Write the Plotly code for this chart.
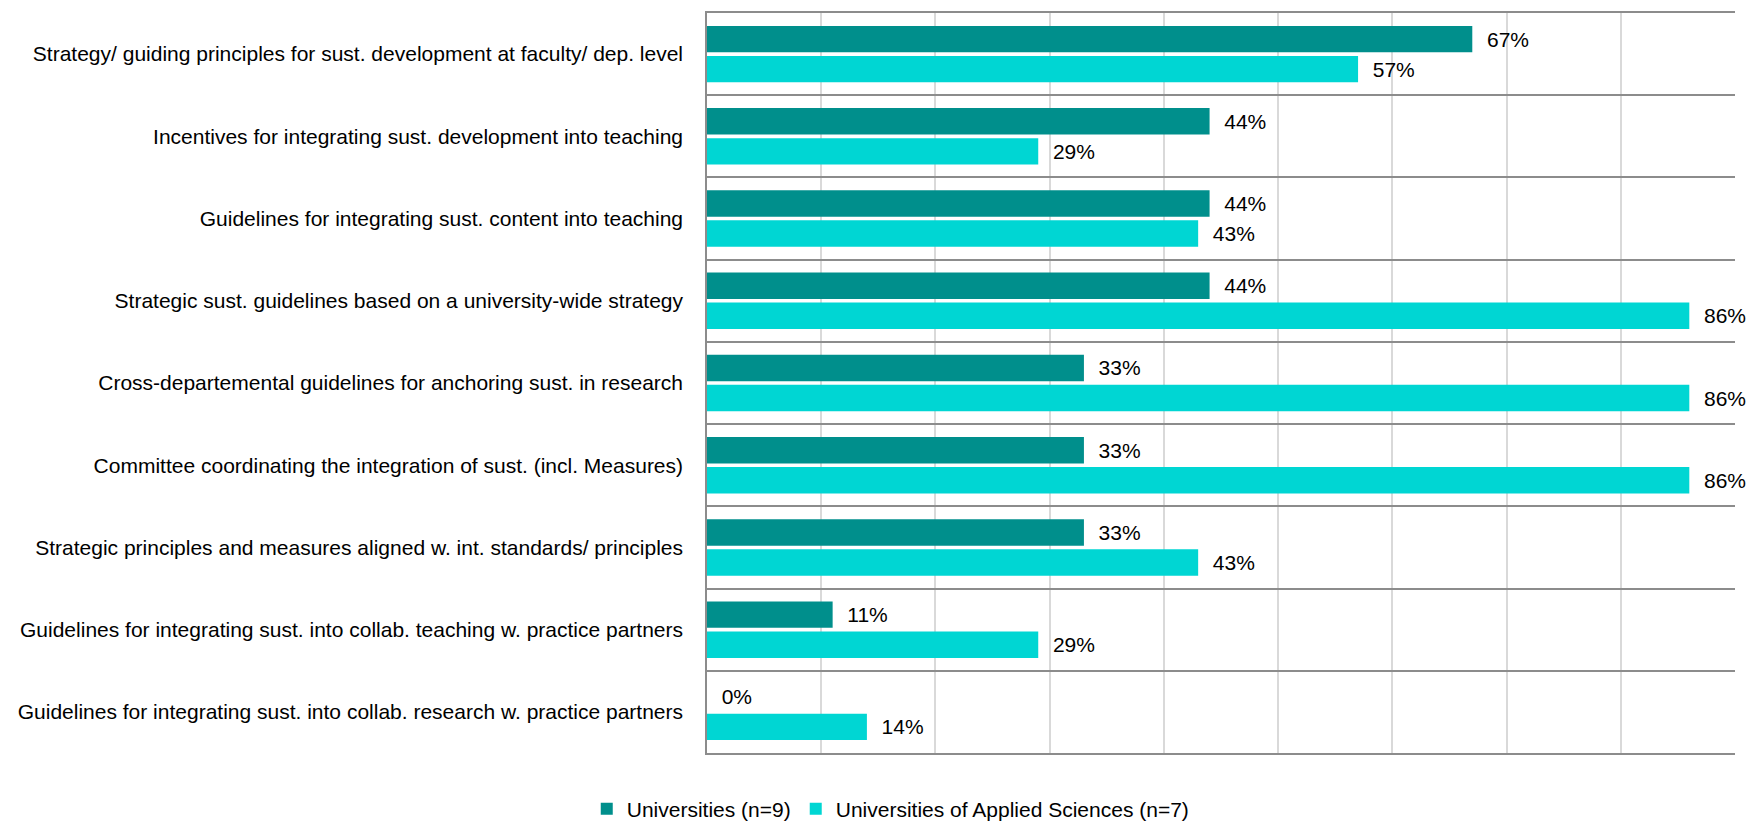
import plotly.graph_objects as go

categories = [
    "Strategy/ guiding principles for sust. development at faculty/ dep. level",
    "Incentives for integrating sust. development into teaching",
    "Guidelines for integrating sust. content into teaching",
    "Strategic sust. guidelines based on a university-wide strategy",
    "Cross-departemental guidelines for anchoring sust. in research",
    "Committee coordinating the integration of sust. (incl. Measures)",
    "Strategic principles and measures aligned w. int. standards/ principles",
    "Guidelines for integrating sust. into collab. teaching w. practice partners",
    "Guidelines for integrating sust. into collab. research w. practice partners",
]
universities = [0.67, 0.44, 0.44, 0.44, 0.33, 0.33, 0.33, 0.11, 0.00]
applied_sciences = [0.57, 0.29, 0.43, 0.86, 0.86, 0.86, 0.43, 0.29, 0.14]
series_names = ["Universities (n=9)", "Universities of Applied Sciences (n=7)"]
colors = ["#008F8C", "#00D6D3"]

font_family = "Liberation Sans, Arial, sans-serif"
fsize = 21

fig = go.Figure()
for name, vals, col in zip(series_names, [universities, applied_sciences], colors):
    fig.add_trace(go.Bar(
        y=categories,
        x=vals,
        name=name,
        orientation="h",
        marker=dict(color=col, line=dict(width=0)),
        # non-breaking spaces push the label away from the bar end
        text=[f"\u00a0\u00a0{v:.0%}" for v in vals],
        textposition="outside",
        textfont=dict(size=fsize, color="#000000", family=font_family),
        cliponaxis=False,
    ))

fig.update_layout(
    barmode="group",
    bargap=0.27,
    bargroupgap=0.12,
    width=1750,
    height=824,
    paper_bgcolor="white",
    plot_bgcolor="white",
    font=dict(family=font_family, size=fsize, color="#000000"),
    margin=dict(l=707, r=15, t=13, b=71),
    xaxis=dict(
        range=[0, 0.9],
        dtick=0.1,
        showticklabels=False,
        showgrid=True,
        gridcolor="#D9D9D9",
        gridwidth=1.5,
        zeroline=False,
        showline=True,
        mirror=True,
        linecolor="#8C8C8C",
        linewidth=1.5,
        fixedrange=True,
    ),
    yaxis=dict(
        autorange="reversed",
        tickson="boundaries",
        showgrid=True,
        gridcolor="#8C8C8C",
        gridwidth=1.5,
        showline=True,
        linecolor="#8C8C8C",
        linewidth=1.5,
        ticks="",
        ticklabelstandoff=18,
        tickfont=dict(size=fsize),
    ),
    legend=dict(
        orientation="h",
        xref="container",
        yref="container",
        x=0.509,
        y=0.018,
        xanchor="center",
        yanchor="middle",
        font=dict(size=fsize),
        itemwidth=30,
        traceorder="normal",
    ),
)

# drop the default body margin so the figure sits flush in the window
fig.write_html(
    "out.html",
    config={"displayModeBar": False},
    post_script="document.body.style.margin='0';document.body.style.overflow='hidden';",
)
